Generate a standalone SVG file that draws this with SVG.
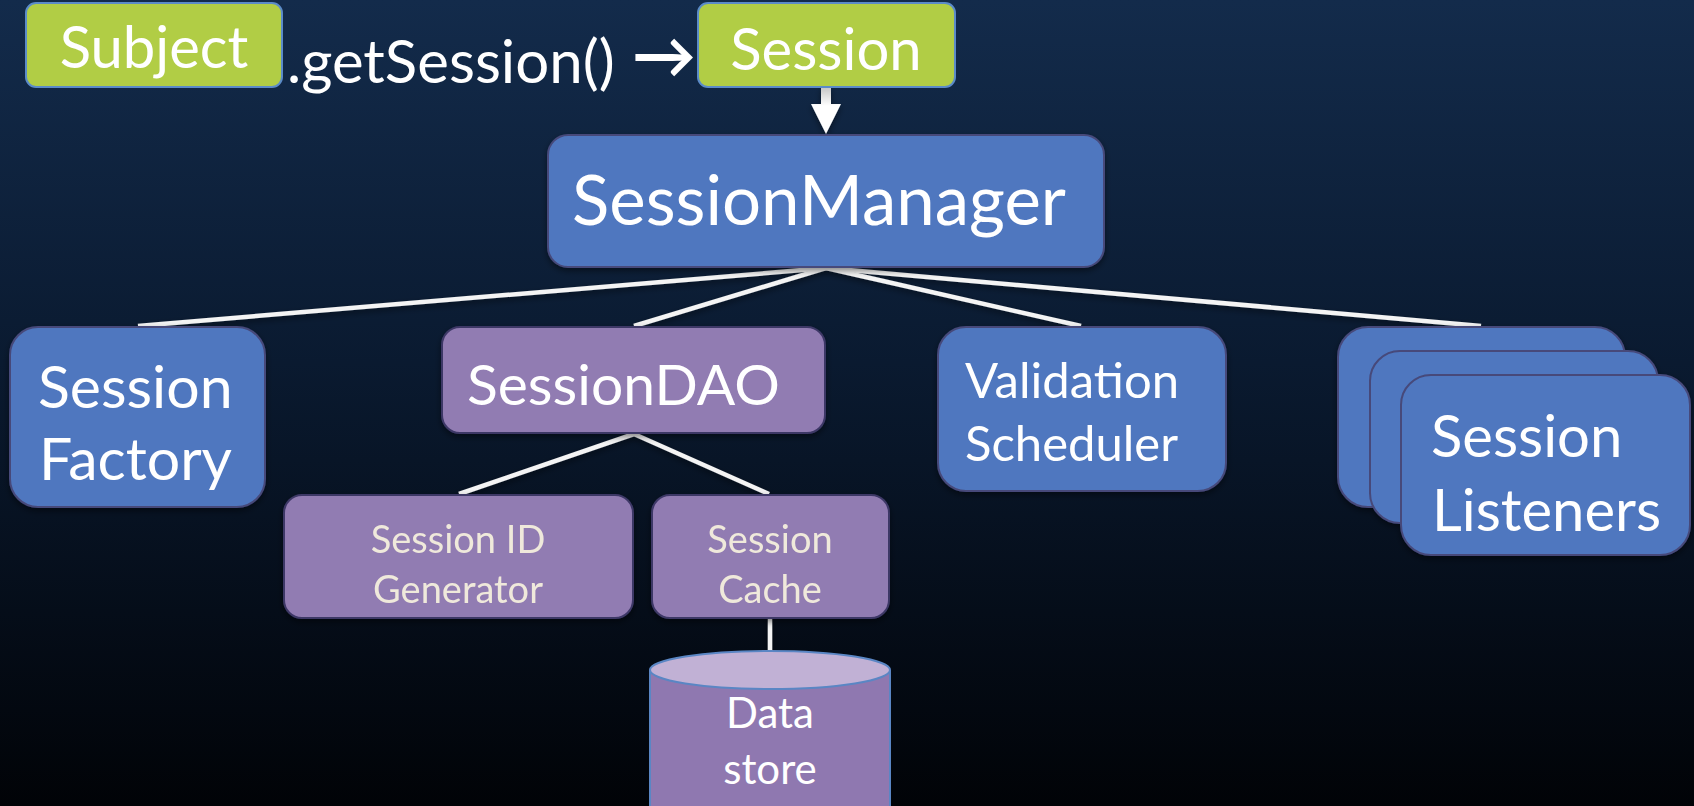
<svg xmlns="http://www.w3.org/2000/svg" width="1694" height="806" viewBox="0 0 1694 806">
  <defs>
    <linearGradient id="bg" x1="0" y1="0" x2="0" y2="1">
      <stop offset="0" stop-color="#132b4b"/>
      <stop offset="0.45" stop-color="#0a1a30"/>
      <stop offset="1" stop-color="#010307"/>
    </linearGradient>
    <linearGradient id="shaft" x1="0" y1="0" x2="0" y2="1">
      <stop offset="0" stop-color="#c4c4c4"/>
      <stop offset="0.4" stop-color="#ffffff"/>
      <stop offset="1" stop-color="#ffffff"/>
    </linearGradient>
    <filter id="shadow" x="-10%" y="-10%" width="120%" height="130%">
      <feDropShadow dx="0" dy="3" stdDeviation="3" flood-color="#000000" flood-opacity="0.45"/>
    </filter>
    <style>
      .t { font-family: Lato, "Liberation Sans", sans-serif; fill: #ffffff; }
      .mid { text-anchor: middle; }
      .green { fill: #b1cd45; stroke: #5b8bc8; stroke-width: 2; }
      .blue { fill: #4f77bf; stroke: #46497a; stroke-width: 2; }
      .purple { fill: #917bb2; stroke: #3d3866; stroke-width: 2; }
      .small { fill: #efe9db; }
      .link { stroke: #f4f4f4; stroke-width: 4.5; fill: none; stroke-linecap: butt; }
      .arrow { font-weight: bold; }
    </style>
  </defs>

  <rect x="0" y="0" width="1694" height="806" fill="url(#bg)"/>

  <!-- connectors -->
  <g id="connectors" filter="url(#shadow)">
    <line class="link" x1="826" y1="268" x2="138" y2="326"/>
    <line class="link" x1="826" y1="268" x2="634" y2="326"/>
    <line class="link" x1="826" y1="268" x2="1081" y2="326"/>
    <line class="link" x1="826" y1="268" x2="1481" y2="326"/>
    <line class="link" x1="634" y1="434" x2="459" y2="494"/>
    <line class="link" x1="634" y1="434" x2="769" y2="494"/>
    <line class="link" x1="770" y1="619" x2="770" y2="652"/>
    <!-- Session to SessionManager block arrow -->
    <path d="M821,87 H831 V104 H841 L826,134 L811,104 H821 Z" fill="url(#shaft)"/>
  </g>

  <!-- Subject.getSession() -> Session -->
  <g id="subject">
    <rect class="green" x="26" y="3" width="256" height="84" rx="10"/>
    <text class="t mid" x="154" y="68" font-size="58">Subject</text>
  </g>
  <g id="call-label">
    <text class="t" x="287" y="83" font-size="60">.getSession() <tspan class="arrow" x="632" y="78" font-size="64">→</tspan></text>
  </g>
  <g id="session">
    <rect class="green" x="698" y="3" width="257" height="84" rx="10"/>
    <text class="t mid" x="826" y="70" font-size="58">Session</text>
  </g>

  <g id="session-manager" filter="url(#shadow)">
    <rect class="blue" x="548" y="135" width="556" height="132" rx="20"/>
    <text class="t" x="572" y="225" font-size="69">SessionManager</text>
  </g>

  <g id="session-factory" filter="url(#shadow)">
    <rect class="blue" x="10" y="327" width="255" height="180" rx="28"/>
    <text class="t" x="38" y="408" font-size="59">Session</text>
    <text class="t" x="39" y="480" font-size="59">Factory</text>
  </g>

  <g id="session-dao" filter="url(#shadow)">
    <rect class="purple" x="442" y="327" width="383" height="106" rx="18"/>
    <text class="t" x="467" y="405" font-size="57">SessionDAO</text>
  </g>

  <g id="validation-scheduler" filter="url(#shadow)">
    <rect class="blue" x="938" y="327" width="288" height="164" rx="28"/>
    <text class="t" x="965" y="398" font-size="49">Validation</text>
    <text class="t" x="965" y="461" font-size="49">Scheduler</text>
  </g>

  <g id="session-listeners" filter="url(#shadow)">
    <rect class="blue" x="1338" y="327" width="287" height="180" rx="30"/>
    <rect class="blue" x="1370" y="351" width="288" height="172" rx="30"/>
    <rect class="blue" x="1401" y="375" width="289" height="180" rx="30"/>
    <text class="t" x="1431" y="457" font-size="58">Session</text>
    <text class="t" x="1432" y="531" font-size="58">Listeners</text>
  </g>

  <g id="session-id-generator" filter="url(#shadow)">
    <rect class="purple" x="284" y="495" width="349" height="123" rx="18"/>
    <text class="t small mid" x="458" y="553" font-size="38">Session ID</text>
    <text class="t small mid" x="458" y="603" font-size="38">Generator</text>
  </g>

  <g id="session-cache" filter="url(#shadow)">
    <rect class="purple" x="652" y="495" width="237" height="123" rx="18"/>
    <text class="t small mid" x="770" y="553" font-size="38">Session</text>
    <text class="t small mid" x="770" y="603" font-size="38">Cache</text>
  </g>

  <g id="data-store">
    <path d="M650,670 V810 H890 V670" fill="#8f78b0" stroke="#5a86c4" stroke-width="2"/>
    <ellipse cx="770" cy="670" rx="120" ry="19" fill="#c1b1d5" stroke="#5a86c4" stroke-width="2"/>
    <text class="t mid" x="770" y="728" font-size="42">Data</text>
    <text class="t mid" x="770" y="784" font-size="42">store</text>
  </g>
</svg>
